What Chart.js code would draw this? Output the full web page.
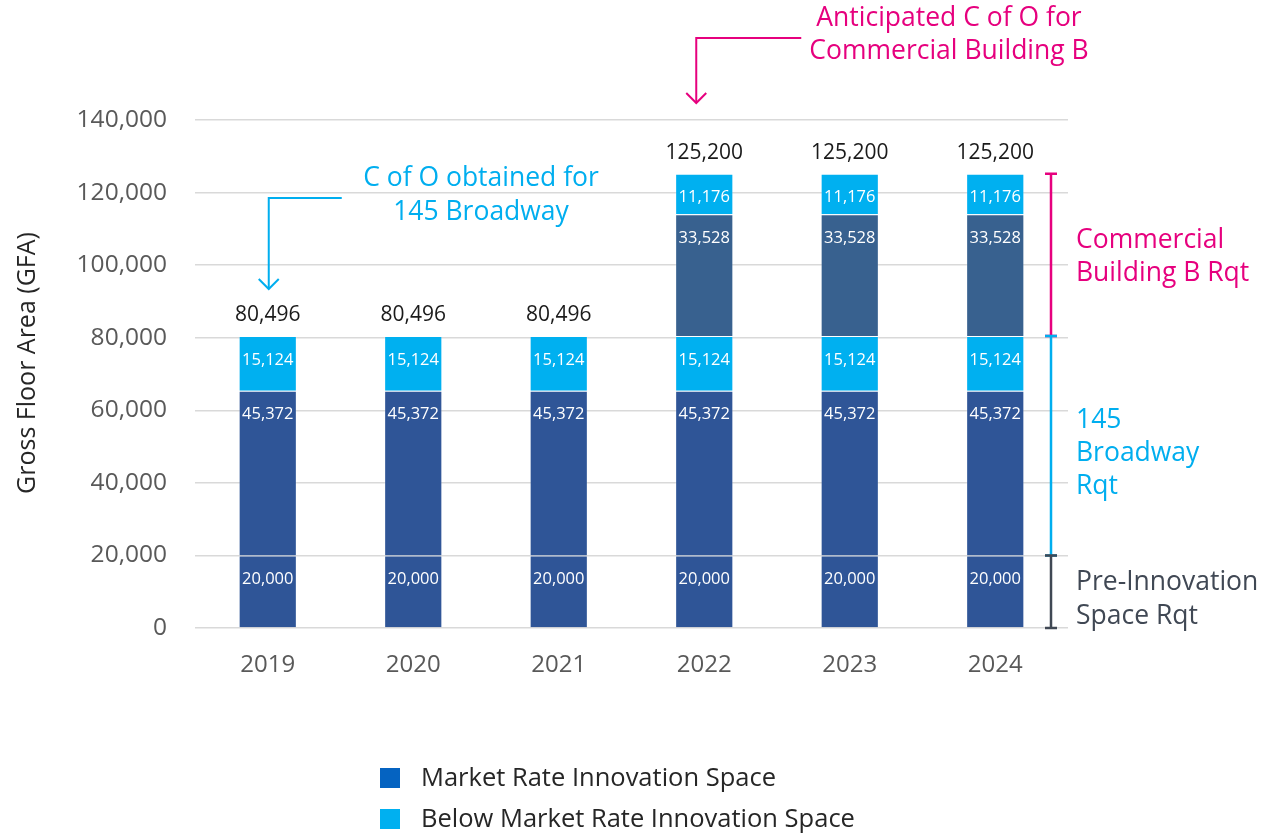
<!DOCTYPE html>
<html>
<head>
<meta charset="utf-8">
<script src="https://cdn.jsdelivr.net/npm/chart.js@4.4.1/dist/chart.umd.min.js"></script>
<style>
  html, body { margin: 0; padding: 0; background: #fff; }
  #chart { display: block; }
</style>
</head>
<body>
<canvas id="chart" width="1266" height="835"></canvas>
<script>
// Data
const categories = ['2019', '2020', '2021', '2022', '2023', '2024'];
const preInnovation = [20000, 20000, 20000, 20000, 20000, 20000];
const broadwayMarket = [45372, 45372, 45372, 45372, 45372, 45372];
const broadwayBelow = [15124, 15124, 15124, 15124, 15124, 15124];
const commercialMarket = [null, null, null, 33528, 33528, 33528];
const commercialBelow = [null, null, null, 11176, 11176, 11176];
const yMin = 0, yMax = 140000, yStep = 20000;

const legendItems = ['Market Rate Innovation Space', 'Below Market Rate Innovation Space'];

const DARK = '#2F5597';
const SLATE = '#38618F';
const LIGHT = '#00B0F0';
const PINK = '#E6007E';
const CYAN = '#00AEEF';
const GREY = '#404854';
const FONT = '"Open Sans", "Noto Sans", sans-serif';

const fmt = v => Number(v).toLocaleString('en-US');

const totals = categories.map((c, i) =>
    [preInnovation, broadwayMarket, broadwayBelow, commercialMarket, commercialBelow]
        .reduce((s, arr) => s + (arr[i] || 0), 0));

// Labels inside segments and totals above
const labelsPlugin = {
    id: 'barLabels',
    afterDatasetsDraw(chart) {
        const ctx = chart.ctx;
        ctx.save();
        ctx.textAlign = 'center';
        ctx.textBaseline = 'middle';
        ctx.font = '16.5px ' + FONT;
        ctx.fillStyle = '#fff';
        chart.data.datasets.forEach((ds, i) => {
            const meta = chart.getDatasetMeta(i);
            meta.data.forEach((el, j) => {
                const v = ds.data[j];
                if (v == null) return;
                ctx.fillText(fmt(v), el.x, el.y + 24);
            });
        });
        const y = chart.scales.y;
        const x = chart.scales.x;
        ctx.font = '21px ' + FONT;
        ctx.fillStyle = '#1a1a1a';
        totals.forEach((t, j) => {
            ctx.fillText(fmt(t), x.getPixelForValue(j), y.getPixelForValue(t) - 21);
        });
        ctx.restore();
    }
};

function arrow(ctx, pts, color) {
    ctx.strokeStyle = color;
    ctx.lineWidth = 2;
    ctx.beginPath();
    ctx.moveTo(pts[0][0], pts[0][1]);
    for (let k = 1; k < pts.length; k++) ctx.lineTo(pts[k][0], pts[k][1]);
    ctx.stroke();
    const [tx, ty] = pts[pts.length - 1];
    ctx.beginPath();
    ctx.moveTo(tx - 10, ty - 10);
    ctx.lineTo(tx, ty);
    ctx.lineTo(tx + 10, ty - 10);
    ctx.stroke();
}

function bracket(ctx, xPos, y1, y2, color) {
    ctx.strokeStyle = color;
    ctx.lineWidth = 2.5;
    ctx.beginPath();
    ctx.moveTo(xPos, y1);
    ctx.lineTo(xPos, y2);
    ctx.moveTo(xPos - 6, y1);
    ctx.lineTo(xPos + 6, y1);
    ctx.moveTo(xPos - 6, y2);
    ctx.lineTo(xPos + 6, y2);
    ctx.stroke();
}

function lines(ctx, arr, xPos, yStart, gap) {
    arr.forEach((t, k) => ctx.fillText(t, xPos, yStart + k * gap));
}

const annotationsPlugin = {
    id: 'annotations',
    afterDraw(chart) {
        const ctx = chart.ctx;
        const y = chart.scales.y;
        const x = chart.scales.x;
        ctx.save();

        // axis title
        ctx.save();
        ctx.translate(28, 363);
        ctx.rotate(-Math.PI / 2);
        ctx.textAlign = 'center';
        ctx.textBaseline = 'middle';
        ctx.font = '25px ' + FONT;
        ctx.fillStyle = '#262626';
        ctx.fillText('Gross Floor Area (GFA)', 0, 0);
        ctx.restore();

        // brackets on the right
        const bx = chart.chartArea.right - 17;
        const top = y.getPixelForValue(totals[3]);
        const mid = y.getPixelForValue(preInnovation[3] + broadwayMarket[3] + broadwayBelow[3]);
        const low = y.getPixelForValue(preInnovation[3]);
        const zero = y.getPixelForValue(0);
        bracket(ctx, bx, top, mid, PINK);
        bracket(ctx, bx, mid, low, CYAN);
        bracket(ctx, bx, low, zero, GREY);

        ctx.textAlign = 'left';
        ctx.textBaseline = 'middle';
        ctx.font = '26.5px ' + FONT;
        const tx = chart.chartArea.right + 8;
        ctx.fillStyle = PINK;
        lines(ctx, ['Commercial', 'Building B Rqt'], tx, 240, 33);
        ctx.fillStyle = CYAN;
        lines(ctx, ['145', 'Broadway', 'Rqt'], tx, 420, 33);
        ctx.fillStyle = GREY;
        lines(ctx, ['Pre-Innovation', 'Space Rqt'], tx, 582, 34);

        // callouts
        const x19 = x.getPixelForValue(0);
        arrow(ctx, [[x19 + 74, 198], [x19 + 1, 198], [x19 + 1, 289]], CYAN);
        ctx.textAlign = 'center';
        ctx.fillStyle = CYAN;
        lines(ctx, ['C of O obtained for', '145 Broadway'], 481, 178, 34);

        const x22 = x.getPixelForValue(3);
        arrow(ctx, [[x22 + 97, 38], [x22 - 8, 38], [x22 - 8, 103]], PINK);
        ctx.fillStyle = PINK;
        lines(ctx, ['Anticipated C of O for', 'Commercial Building B'], 949, 18, 33);

        // legend
        ctx.textAlign = 'left';
        ctx.font = '25.5px ' + FONT;
        const swatches = ['#0563C1', LIGHT];
        legendItems.forEach((t, k) => {
            const ly = 778 + k * 41;
            ctx.fillStyle = swatches[k];
            ctx.fillRect(380, ly - 10, 20, 20);
            ctx.fillStyle = '#262626';
            ctx.fillText(t, 421, ly + 1);
        });
        ctx.restore();
    }
};

const barStyle = {
    borderWidth: 1,
    borderColor: 'rgba(255,255,255,0.2)',
    barPercentage: 0.4,
    categoryPercentage: 1.0
};

new Chart(document.getElementById('chart').getContext('2d'), {
    type: 'bar',
    data: {
        labels: categories,
        datasets: [
            { label: 'Pre-Innovation', data: preInnovation, backgroundColor: DARK, ...barStyle },
            { label: '145 Broadway Market', data: broadwayMarket, backgroundColor: DARK, ...barStyle },
            { label: '145 Broadway Below', data: broadwayBelow, backgroundColor: LIGHT, ...barStyle },
            { label: 'Commercial B Market', data: commercialMarket, backgroundColor: SLATE, ...barStyle },
            { label: 'Commercial B Below', data: commercialBelow, backgroundColor: LIGHT, ...barStyle }
        ]
    },
    options: {
        responsive: false,
        animation: false,
        devicePixelRatio: 1,
        layout: { padding: { top: 120, right: 198, left: 0, bottom: 0 } },
        plugins: {
            legend: { display: false },
            tooltip: { enabled: false }
        },
        scales: {
            x: {
                stacked: true,
                grid: { display: false, drawTicks: false },
                border: { display: false },
                ticks: { color: '#595959', font: { family: FONT, size: 24 }, padding: 23 },
                afterFit(scale) { scale.height = 207; }
            },
            y: {
                stacked: true,
                min: yMin,
                max: yMax,
                ticks: {
                    stepSize: yStep,
                    color: '#595959',
                    font: { family: FONT, size: 24.5 },
                    padding: 28,
                    callback: v => fmt(v)
                },
                grid: { color: '#d9d9d9', lineWidth: 1.5, drawTicks: false },
                border: { display: false },
                afterFit(scale) { scale.width = 195; }
            }
        }
    },
    plugins: [labelsPlugin, annotationsPlugin]
});
</script>
</body>
</html>
